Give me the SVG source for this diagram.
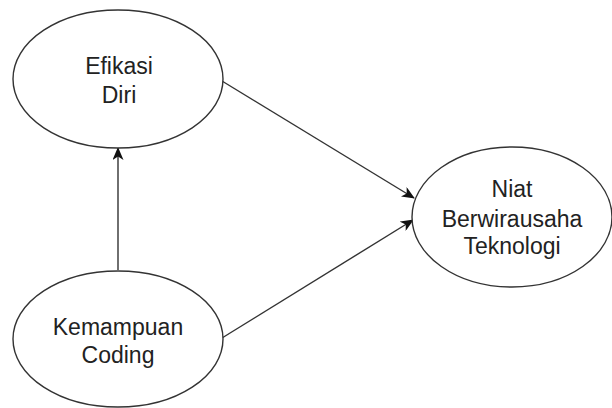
<svg xmlns="http://www.w3.org/2000/svg" width="612" height="408" viewBox="0 0 612 408">
<style>
.node ellipse{fill:#fff;stroke:#333;stroke-width:1.4}
.node text{font-family:"Liberation Sans",Arial,sans-serif;font-size:23px;fill:#222;text-anchor:middle}
.edge{stroke:#333;stroke-width:1.4;fill:none;marker-end:url(#arr)}
</style>
<defs>
<marker id="arr" viewBox="0 0 13 11" refX="12" refY="5.5" markerWidth="13" markerHeight="11" markerUnits="userSpaceOnUse" orient="auto">
<path d="M0,0 L13,5.5 L0,11 L3.5,5.5 Z" fill="#111"/>
</marker>
</defs>
<rect width="612" height="408" fill="#fff"/>
<g id="connectors">
<line class="edge" x1="222" y1="81" x2="414" y2="198"/>
<line class="edge" x1="222" y1="338" x2="413" y2="220"/>
<line class="edge" x1="118" y1="270" x2="118" y2="148"/>
</g>
<g id="efikasi" class="node">
<ellipse cx="118" cy="79" rx="105" ry="69"/>
<text x="119" y="74">Efikasi</text>
<text x="119" y="103">Diri</text>
</g>
<g id="kemampuan" class="node">
<ellipse cx="118" cy="339" rx="105" ry="68"/>
<text x="118" y="335">Kemampuan</text>
<text x="118" y="363">Coding</text>
</g>
<g id="niat" class="node">
<ellipse cx="512" cy="217" rx="100" ry="70"/>
<text x="512" y="197">Niat</text>
<text x="512" y="227">Berwirausaha</text>
<text x="512" y="254">Teknologi</text>
</g>
</svg>
